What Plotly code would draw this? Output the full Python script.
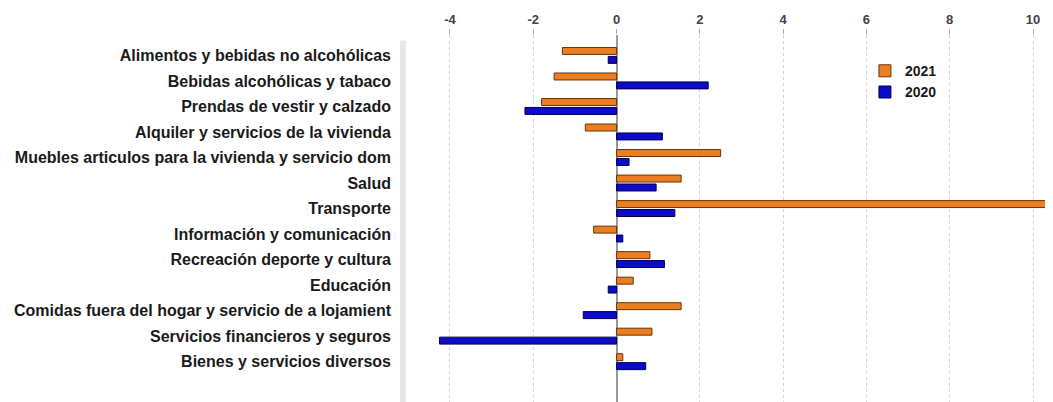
import plotly.graph_objects as go

categories = [
    "Alimentos y bebidas no alcohólicas",
    "Bebidas alcohólicas y tabaco",
    "Prendas de vestir y calzado",
    "Alquiler y servicios de la vivienda",
    "Muebles articulos para la vivienda y servicio dom",
    "Salud",
    "Transporte",
    "Información y comunicación",
    "Recreación deporte y cultura",
    "Educación",
    "Comidas fuera del hogar y servicio de a lojamient",
    "Servicios financieros y seguros",
    "Bienes y servicios diversos",
]
values_2021 = [-1.3, -1.5, -1.8, -0.75, 2.5, 1.55, 11.5, -0.55, 0.8, 0.4, 1.55, 0.85, 0.15]
values_2020 = [-0.2, 2.2, -2.2, 1.1, 0.3, 0.95, 1.4, 0.15, 1.15, -0.2, -0.8, -4.25, 0.7]
x_ticks = [-4, -2, 0, 2, 4, 6, 8, 10]

fig = go.Figure()
fig.add_trace(go.Bar(
    y=categories, x=values_2021, name="2021", orientation="h",
    marker=dict(color="#EA7F22", line=dict(color="#6B3408", width=1)),
))
fig.add_trace(go.Bar(
    y=categories, x=values_2020, name="2020", orientation="h",
    marker=dict(color="#0B0BC8", line=dict(color="#000055", width=1)),
))

font_family = "Liberation Sans, Arial, sans-serif"
# the page body adds an 8px offset, so the figure is 8px smaller on each side
fig.update_layout(
    width=1045, height=394,
    margin=dict(l=392, r=0, t=27, b=0, autoexpand=False),
    paper_bgcolor="white", plot_bgcolor="white",
    barmode="group", bargap=0.3, bargroupgap=0.22,
    font=dict(family=font_family, size=13, color="#1a1a1a"),
    showlegend=True,
    legend=dict(
        x=0.712, y=0.945, xanchor="left", yanchor="top",
        bgcolor="rgba(255,255,255,0)",
        font=dict(size=14, color="#1a1a1a", family=font_family, weight="bold"),
        tracegroupgap=0, itemwidth=30,
    ),
    xaxis=dict(
        side="top", range=[-5.2, 10.48],
        tickvals=x_ticks, ticktext=[str(v) for v in x_ticks],
        tickfont=dict(size=13, color="#444444", family=font_family, weight="bold"),
        showgrid=True, gridcolor="#d2d2d2", griddash="dot", gridwidth=1,
        zeroline=True, zerolinecolor="#9a9a9a", zerolinewidth=2,
        ticks="outside", ticklen=5, tickcolor="#aaaaaa",
        showline=False, fixedrange=True,
    ),
    yaxis=dict(
        type="category", range=[13.58, -0.8],
        tickfont=dict(size=16, color="#1a1a1a", family=font_family, weight="bold"),
        ticks="", showgrid=False, showline=False, ticklabelstandoff=8,
    ),
    shapes=[dict(type="rect", xref="paper", yref="paper", x0=0, x1=0.009, y0=0, y1=0.985,
                 fillcolor="#e6e6e6", line=dict(width=0), layer="below")],
)

fig.write_html("out.html")
